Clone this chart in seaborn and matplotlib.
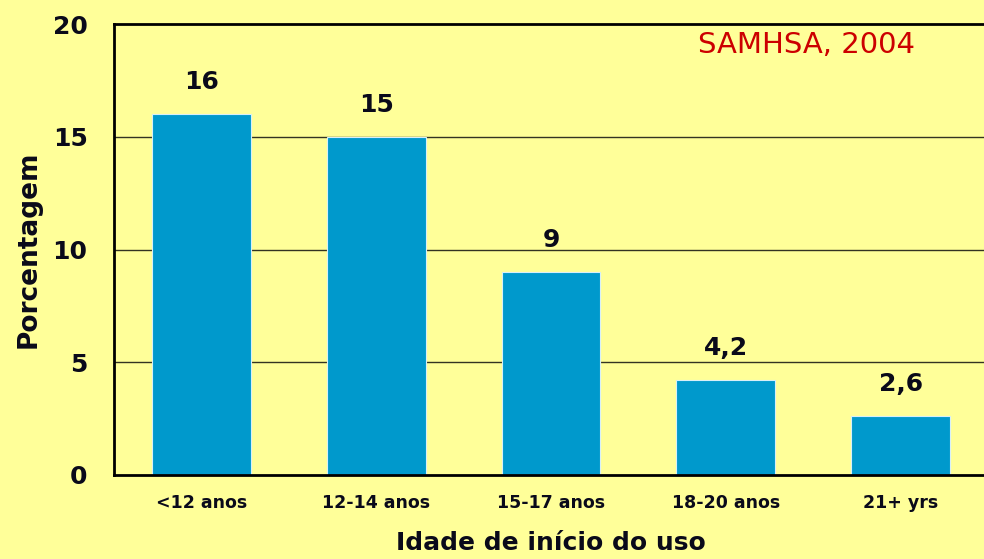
import matplotlib
matplotlib.use("Agg")
import matplotlib.pyplot as plt
import seaborn as sns
import pandas as pd

# data
categories = ["<12 anos", "12-14 anos", "15-17 anos", "18-20 anos", "21+ yrs"]
values = [16, 15, 9, 4.2, 2.6]
value_labels = ["16", "15", "9", "4,2", "2,6"]
y_ticks = [0, 5, 10, 15, 20]

bg = "#FFFF99"
bar_color = "#0099CC"
ink = "#0a0a1a"

sns.set_theme(style="white")
plt.rcParams["font.family"] = ["DejaVu Sans"]

df = pd.DataFrame({"idade": categories, "pct": values})

fig = plt.figure(figsize=(9.84, 5.59), dpi=100, facecolor=bg)
ax = fig.add_axes([114 / 984, 84 / 559, 874 / 984, 451 / 559])
ax.set_facecolor(bg)

# gridlines behind the bars
for t in y_ticks[1:-1]:
    ax.axhline(t, color="#333322", linewidth=1.0, zorder=0)

sns.barplot(data=df, x="idade", y="pct", color=bar_color, width=0.566,
            edgecolor="#d8f0f8", linewidth=0.8, saturation=1, ax=ax, zorder=2)

for i, (v, lab) in enumerate(zip(values, value_labels)):
    ax.annotate(lab, (i, v), xytext=(0, 23), textcoords="offset points",
                ha="center", va="center", fontsize=18, fontweight="bold",
                color=ink)

ax.set_xlim(-0.5, 4.5)
ax.set_ylim(0, 20)
ax.set_yticks(y_ticks)
ax.set_yticklabels([str(t) for t in y_ticks], fontsize=18, fontweight="bold",
                   color=ink)
ax.tick_params(axis="y", length=0, pad=19)
ax.tick_params(axis="x", length=0, pad=14, labelsize=12.5, labelcolor=ink)
for lab in ax.get_xticklabels():
    lab.set_fontweight("bold")

ax.set_xlabel("Idade de início do uso", fontsize=18, fontweight="bold",
              color=ink, labelpad=13)
ax.set_ylabel("Porcentagem", fontsize=19, fontweight="bold", color=ink,
              labelpad=8)

for side in ["left", "bottom", "top"]:
    ax.spines[side].set_visible(True)
    ax.spines[side].set_color("black")
    ax.spines[side].set_linewidth(2)
ax.spines["right"].set_visible(False)

ax.text(0.668, 0.953, "SAMHSA, 2004", transform=ax.transAxes, fontsize=21,
        color="#CC0000", ha="left", va="center")

fig.savefig("out.png", dpi=100, facecolor=bg)
